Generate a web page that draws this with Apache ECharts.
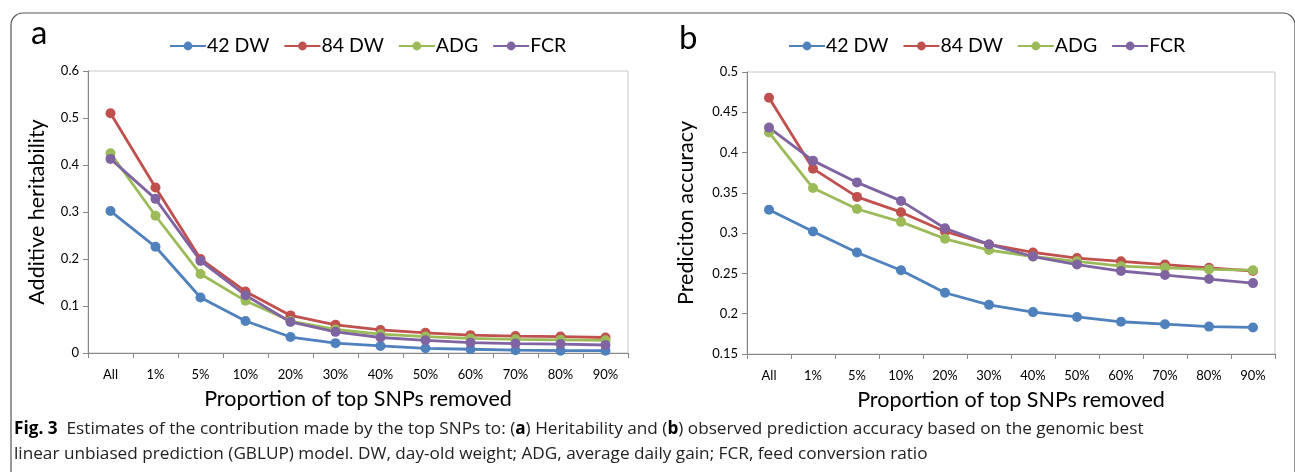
<!DOCTYPE html>
<html>
<head>
<meta charset="utf-8">
<script src="https://cdn.jsdelivr.net/npm/echarts@6/dist/echarts.min.js"></script>
<style>
html,body{margin:0;padding:0;background:#fff;}
#main{width:1295px;height:472px;}
</style>
</head>
<body>
<div id="main"></div>
<script>
const categories = ['All','1%','5%','10%','20%','30%','40%','50%','60%','70%','80%','90%'];
const seriesNames = ['42 DW','84 DW','ADG','FCR'];

// Panel a: additive heritability
const herit42DW = [0.302,0.226,0.118,0.068,0.034,0.021,0.015,0.010,0.008,0.006,0.005,0.005];
const herit84DW = [0.510,0.352,0.200,0.131,0.080,0.060,0.049,0.043,0.038,0.036,0.035,0.033];
const heritADG  = [0.425,0.292,0.168,0.111,0.068,0.050,0.040,0.035,0.031,0.029,0.028,0.027];
const heritFCR  = [0.413,0.328,0.196,0.123,0.066,0.045,0.033,0.027,0.022,0.020,0.019,0.017];

// Panel b: prediction accuracy
const acc42DW = [0.329,0.302,0.276,0.254,0.226,0.211,0.202,0.196,0.190,0.187,0.184,0.183];
const acc84DW = [0.468,0.380,0.345,0.326,0.302,0.286,0.276,0.269,0.265,0.261,0.257,0.253];
const accADG  = [0.425,0.356,0.330,0.314,0.293,0.279,0.271,0.265,0.259,0.257,0.255,0.254];
const accFCR  = [0.431,0.390,0.363,0.340,0.306,0.286,0.271,0.261,0.253,0.248,0.243,0.238];

const colors = ['#4F81BD','#C0504D','#9BBB59','#8064A2'];
const font = 'Lato, "Open Sans", sans-serif';

const chart = echarts.init(document.getElementById('main'), null, {renderer:'canvas'});

function mkSeries(name, data, idx, color){
  return {
    name: name, type:'line', data: data,
    xAxisIndex: idx, yAxisIndex: idx,
    symbol:'circle', symbolSize:10,
    itemStyle:{color:color},
    lineStyle:{color:color, width:2.8},
    emphasis:{disabled:true},
    animation:false
  };
}

function xAx(idx){
  return {
    type:'category', gridIndex:idx, data:categories, boundaryGap:true,
    axisLine:{show:true, lineStyle:{color:'#868686', width:1}},
    axisTick:{show:true, inside:false, length:5, alignWithLabel:false, lineStyle:{color:'#868686'}},
    axisLabel:{color:'#000', fontFamily:font, fontSize:13, margin:15, interval:0},
    splitLine:{show:false},
    name:'Proportion of top SNPs removed', nameLocation:'middle', nameGap:35,
    nameTextStyle:{color:'#000', fontFamily:font, fontSize:21.5}
  };
}
function yAx(idx, min, max, interval, name, gap){
  return {
    type:'value', gridIndex:idx, min:min, max:max, interval:interval,
    axisLine:{show:true, lineStyle:{color:'#868686', width:1}},
    axisTick:{show:true, inside:false, length:5, lineStyle:{color:'#868686'}},
    axisLabel:{color:'#000', fontFamily:font, fontSize:13, margin:9,
      formatter: v => String(parseFloat(v.toFixed(3)))},
    splitLine:{show:false},
    name:name, nameLocation:'middle', nameGap:gap, nameRotate:90,
    nameTextStyle:{color:'#000', fontFamily:font, fontSize:21.5}
  };
}

const option = {
  backgroundColor:'#fff',
  animation:false,
  grid:[
    {left:88, top:71, width:540, height:282, show:true, borderColor:'#c8c8c8', borderWidth:1, backgroundColor:'transparent'},
    {left:747, top:72, width:528, height:282, show:true, borderColor:'#c8c8c8', borderWidth:1, backgroundColor:'transparent'}
  ],
  legend:[
    {data:seriesNames, left:164, top:31, itemWidth:36, itemHeight:11, itemGap:14,
     textStyle:{fontFamily:font, fontSize:19.5, color:'#000', padding:[0,0,0,-4]}},
    {data:seriesNames, left:783, top:31, itemWidth:36, itemHeight:11, itemGap:14,
     textStyle:{fontFamily:font, fontSize:19.5, color:'#000', padding:[0,0,0,-4]}}
  ],
  xAxis:[xAx(0), xAx(1)],
  yAxis:[
    yAx(0, 0, 0.6, 0.1, 'Additive heritability', 40),
    yAx(1, 0.15, 0.5, 0.05, 'Prediciton accuracy', 50)
  ],
  series:[
    mkSeries(seriesNames[0], herit42DW, 0, colors[0]),
    mkSeries(seriesNames[1], herit84DW, 0, colors[1]),
    mkSeries(seriesNames[2], heritADG, 0, colors[2]),
    mkSeries(seriesNames[3], heritFCR, 0, colors[3]),
    mkSeries(seriesNames[0], acc42DW, 1, colors[0]),
    mkSeries(seriesNames[1], acc84DW, 1, colors[1]),
    mkSeries(seriesNames[2], accADG, 1, colors[2]),
    mkSeries(seriesNames[3], accFCR, 1, colors[3])
  ],
  graphic:[
    {type:'rect', shape:{x:11, y:13, width:1284, height:600, r:[12,12,0,0]},
     style:{fill:'none', stroke:'#555', lineWidth:1.2}, silent:true, z:-1},
    {type:'text', left:31, top:17, style:{text:'a', font:'33px ' + font, fill:'#000'}},
    {type:'text', left:679, top:22, style:{text:'b', font:'33px ' + font, fill:'#000'}},
    {type:'text', left:14, top:421, style:{
      rich:{
        b:{fontFamily:'"Open Sans", sans-serif', fontWeight:'bold', fontSize:17.2, fill:'#000'},
        n:{fontFamily:'"Open Sans", sans-serif', fontSize:17.2, fill:'#222'}
      },
      text:'{b|Fig. 3}{n|  Estimates of the contribution made by the top SNPs to: (}{b|a}{n|) Heritability and (}{b|b}{n|) observed prediction accuracy based on the genomic best}',
      fill:'#000'
    }},
    {type:'text', left:14, top:446, style:{
      text:'linear unbiased prediction (GBLUP) model. DW, day-old weight; ADG, average daily gain; FCR, feed conversion ratio',
      font:'17.2px "Open Sans", sans-serif', fill:'#222'
    }}
  ]
};
chart.setOption(option);
</script>
</body>
</html>
